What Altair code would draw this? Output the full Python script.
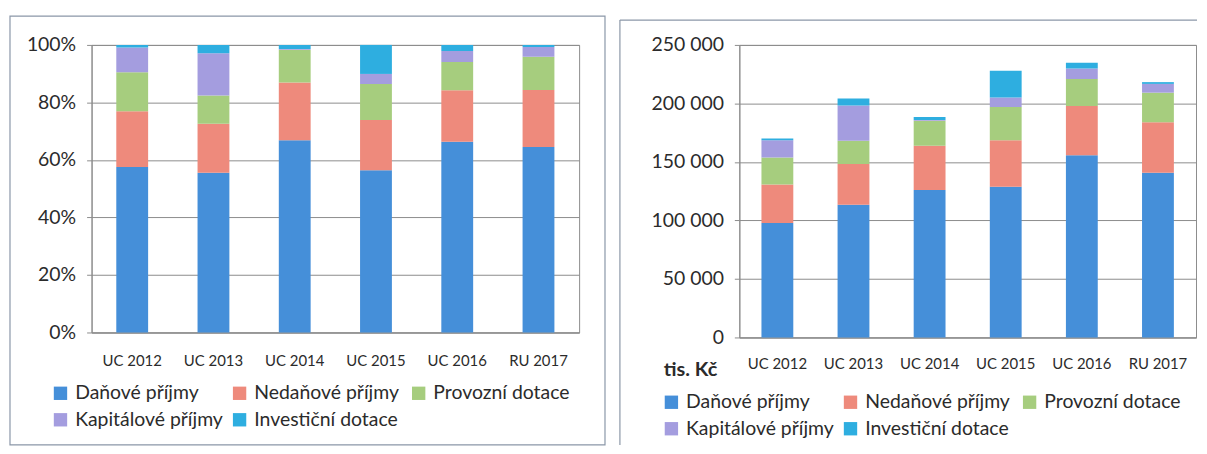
import altair as alt
import pandas as pd

kategorie = ["UC 2012", "UC 2013", "UC 2014", "UC 2015", "UC 2016", "RU 2017"]
rady = ["Daňové příjmy", "Nedaňové příjmy", "Provozní dotace", "Kapitálové příjmy", "Investiční dotace"]
danove_prijmy = [97800, 113500, 126000, 128700, 155800, 140800]
nedanove_prijmy = [33000, 34700, 37800, 39800, 42000, 43100]
provozni_dotace = [23000, 20000, 21500, 28500, 23000, 25300]
kapitalove_prijmy = [14700, 30000, 600, 8000, 9000, 7500]
investicni_dotace = [1500, 6000, 2600, 23000, 5000, 1500]
barvy = ["#458fd9", "#ee8a7c", "#a6cd7e", "#a49ddf", "#2eaee0"]
y_procenta = [0, 0.2, 0.4, 0.6, 0.8, 1.0]
y_hodnoty = [0, 50000, 100000, 150000, 200000, 250000]
jednotka = "tis. Kč"

hodnoty = [danove_prijmy, nedanove_prijmy, provozni_dotace, kapitalove_prijmy, investicni_dotace]
rows = []
for i, (rada, vals) in enumerate(zip(rady, hodnoty)):
    for k, v in zip(kategorie, vals):
        rows.append({"kategorie": k, "rada": rada, "poradi": i, "hodnota": v})
df = pd.DataFrame(rows)
one = pd.DataFrame({"i": [0]})

W1, H1 = 490, 289
W2, H2 = 459, 294
GRID = "#8c8c8c"
FRAME = "#8b97a8"
TEXT = "#2b2b2b"
FONT = "Lato"


def legenda(x, y):
    return alt.Legend(title=None, orient="none", legendX=x, legendY=y, direction="horizontal",
                      columns=3, gridAlign="all", symbolType="square", symbolSize=180,
                      symbolStrokeWidth=0, labelFont=FONT, labelFontSize=19.5, labelColor=TEXT,
                      labelOffset=5, columnPadding=6, rowPadding=6, labelLimit=400, padding=0)


def sloupce(stack, yaxis, yscale, leg, xpad):
    return alt.Chart(df).mark_bar(size=32).encode(
        x=alt.X("kategorie:N", sort=kategorie, scale=alt.Scale(paddingInner=0, paddingOuter=0),
                axis=alt.Axis(title=None, labelAngle=0, ticks=False, labelFontSize=15,
                              labelPadding=xpad, grid=False)),
        y=alt.Y("hodnota:Q", stack=stack, scale=yscale, axis=yaxis),
        color=alt.Color("rada:N", sort=rady, scale=alt.Scale(domain=rady, range=barvy), legend=leg),
        order=alt.Order("poradi:Q", sort="ascending"),
    )


left_bars = sloupce(
    "normalize",
    alt.Axis(title=None, values=y_procenta, format=".0%", labelFontSize=19.5, tickSize=5,
             labelPadding=11, grid=True),
    alt.Scale(domain=[0, 1]),
    legenda(-41, 340),
    21,
)
left_frame = alt.Chart(one).mark_rect(fillOpacity=0, stroke=FRAME, strokeWidth=1.2).encode(
    x=alt.value(-82), x2=alt.value(516), y=alt.value(-29), y2=alt.value(402))
left = alt.layer(left_frame, left_bars).properties(width=W1, height=H1)

right_bars = sloupce(
    "zero",
    alt.Axis(title=None, values=y_hodnoty, labelExpr="replace(format(datum.value, ','), ',', ' ')",
             labelFontSize=19.5, tickSize=5, labelPadding=11, grid=True),
    alt.Scale(domain=[0, 250000]),
    legenda(-78, 349),
    19,
)
right_top = alt.Chart(one).mark_rule(color=FRAME, strokeWidth=1.2).encode(
    x=alt.value(-120), x2=alt.value(W2 + 1), y=alt.value(-25))
right_left = alt.Chart(one).mark_rule(color=FRAME, strokeWidth=1.2).encode(
    x=alt.value(-120), y=alt.value(-25), y2=alt.value(402))
unit = alt.Chart(one).mark_text(text=jednotka, align="left", baseline="middle", font=FONT,
                                fontSize=20, fontWeight="bold", color=TEXT).encode(
    x=alt.value(-76), y=alt.value(327))
right = alt.layer(right_top, right_left, right_bars, unit).properties(width=W2, height=H2)

chart = alt.hconcat(left, right, spacing=11).resolve_scale(color="independent").resolve_legend(
    color="independent").properties(
    padding={"left": 0, "top": 5, "right": 0, "bottom": 0},
    background="white",
).configure_view(stroke=GRID, strokeWidth=1).configure_axis(
    labelFont=FONT, labelColor=TEXT, domainColor=GRID, gridColor=GRID, tickColor=GRID,
    domainWidth=1, gridWidth=1,
)

chart.save("out.html", embed_options={"renderer": "svg", "actions": False})
